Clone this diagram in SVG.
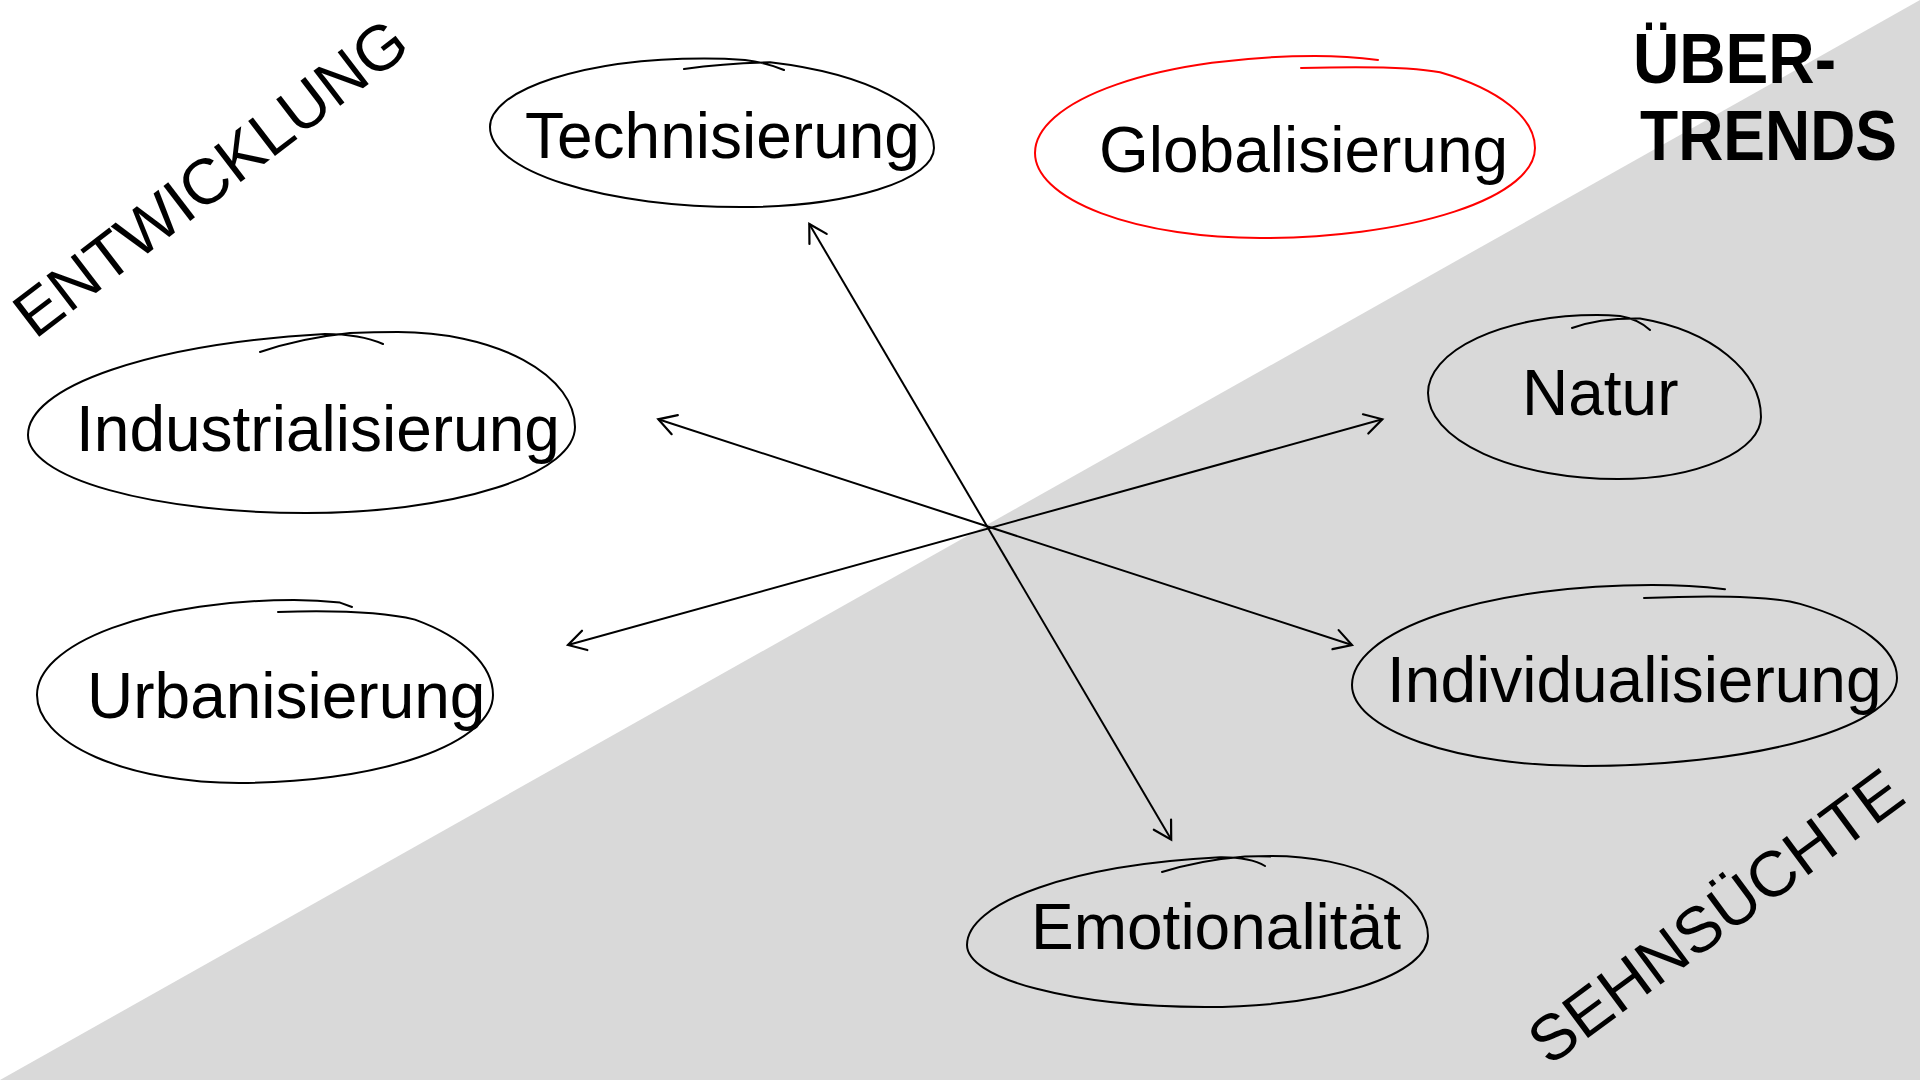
<svg xmlns="http://www.w3.org/2000/svg" width="1920" height="1080" viewBox="0 0 1920 1080">
<defs>
<style>
.lbl{font-family:"Liberation Sans",Arial,sans-serif;font-size:64px;fill:#000}
.cat{font-family:"Liberation Sans",Arial,sans-serif;font-size:64px;fill:#000}
.head{font-family:"Liberation Sans",Arial,sans-serif;font-size:70px;font-weight:bold;fill:#000}
.ring{fill:none;stroke:#000;stroke-width:2;stroke-linecap:round;stroke-linejoin:round}
.ring.red{stroke:#FF0000}
.conn{fill:none;stroke:#000;stroke-width:2;marker-start:url(#ah);marker-end:url(#ah)}
</style>
<marker id="ah" markerUnits="userSpaceOnUse" markerWidth="30" markerHeight="30" viewBox="-25 -15 30 30" refX="0" refY="0" orient="auto-start-reverse" overflow="visible">
<path d="M-17.3,-10 L0,0 L-17.3,10" fill="none" stroke="#000" stroke-width="2.2" stroke-linecap="round"/>
</marker>
</defs>
<g id="background">
<rect x="0" y="0" width="1920" height="1080" fill="#FFFFFF"/>
<polygon points="0,1080 1920,0 1920,1080" fill="#D9D9D9"/>
</g>
<g id="categories">
<text class="cat" transform="translate(35,340) rotate(-37.5)" textLength="476" lengthAdjust="spacingAndGlyphs">ENTWICKLUNG</text>
<text class="cat" transform="translate(1549,1067) rotate(-36.5)" textLength="447" lengthAdjust="spacingAndGlyphs">SEHNSÜCHTE</text>
<text class="head" x="1633" y="83" textLength="203" lengthAdjust="spacingAndGlyphs">ÜBER-</text>
<text class="head" x="1640" y="160" textLength="257" lengthAdjust="spacingAndGlyphs">TRENDS</text>
</g>
<g id="connectors">
<line class="conn" x1="809.3" y1="224" x2="1171.2" y2="839.6"/>
<line class="conn" x1="658.3" y1="419.3" x2="1352" y2="645"/>
<line class="conn" x1="568" y1="645" x2="1382.3" y2="419.3"/>
</g>
<g id="node-technisierung">
<path class="ring" d="M684,69 Q725,63 770,62.3 A230,89.5 0 0 1 934,148 A193,59 0 0 1 741,207 A251,80 0 0 1 490,127 A214,68.5 0 0 1 704,58.5 A230,89.5 0 0 1 745,59.9 Q768,63 784,70"/>
<text class="lbl" x="525" y="158">Technisierung</text>
</g>
<g id="node-globalisierung">
<path class="ring red" d="M1301,68 Q1405,65 1440,72.3 A220,92 0 0 1 1535,148 A275,90 0 0 1 1260,238 A225,85 0 0 1 1035,153 A280,97 0 0 1 1315,56 A220,92 0 0 1 1378,59.9"/>
<text class="lbl" x="1099" y="172">Globalisierung</text>
</g>
<g id="node-industrialisierung">
<path class="ring" d="M260,352 Q300,338 350,332.9 A370,103 0 0 1 398,332 A177,95 0 0 1 575,427 A269,86 0 0 1 306,513 A278,78 0 0 1 28,435 A370,103 0 0 1 325,334 Q360,334 383,344"/>
<text class="lbl" x="76" y="451">Industrialisierung</text>
</g>
<g id="node-natur">
<path class="ring" d="M1572,328 Q1600,318 1640,318.6 A164,102 0 0 1 1761,417 A143,62 0 0 1 1618,479 A190,86 0 0 1 1428,393 A169,78 0 0 1 1597,315 A164,102 0 0 1 1620,316 Q1638,319 1650,330"/>
<text class="lbl" x="1522" y="415">Natur</text>
</g>
<g id="node-urbanisierung">
<path class="ring" d="M278,612 Q370,609 415,619.6 A199,95 0 0 1 493,695 A254,88 0 0 1 239,783 A202,88 0 0 1 37,695 A257,95 0 0 1 294,600 A199,95 0 0 1 340,602.6 L352,607"/>
<text class="lbl" x="87" y="718">Urbanisierung</text>
</g>
<g id="node-individualisierung">
<path class="ring" d="M1644,598 Q1760,593 1800,603.9 A245,93 0 0 1 1897,678 A313,88 0 0 1 1584,766 A232,81 0 0 1 1352,685 A300,100 0 0 1 1652,585 A245,93 0 0 1 1725,589.2"/>
<text class="lbl" x="1387" y="702">Individualisierung</text>
</g>
<g id="node-emotionalitaet">
<path class="ring" d="M1162,872 Q1200,860 1245,856.4 A305,89 0 0 1 1272,856 A156,80 0 0 1 1428,936 A223,71 0 0 1 1205,1007 A238,62 0 0 1 967,945 A305,89 0 0 1 1220,857.3 Q1250,857 1265,866"/>
<text class="lbl" x="1031" y="949">Emotionalität</text>
</g>
</svg>
